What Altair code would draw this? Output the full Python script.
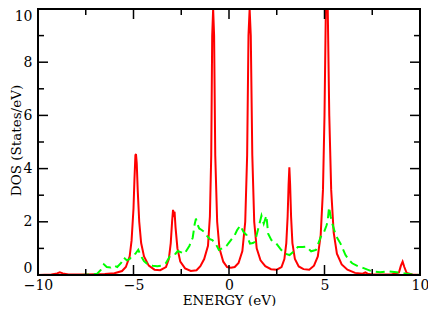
import altair as alt
import pandas as pd

# Red (solid) DOS curve: energy (eV), DOS (states/eV)
red_e = [-10.0, -9.3, -9.0, -8.86, -8.7, -8.4, -7.5, -6.5, -6.0, -5.6, -5.4, -5.2, -5.1, -5.0, -4.95,
         -4.9, -4.87, -4.83, -4.78, -4.7, -4.6, -4.45, -4.2, -3.9, -3.6, -3.3, -3.15, -3.05, -2.98,
         -2.93, -2.89, -2.85, -2.8, -2.7, -2.55, -2.3, -2.0, -1.7, -1.5, -1.3, -1.1, -1.0, -0.93,
         -0.88, -0.83, -0.78, -0.72, -0.62, -0.5, -0.3, -0.1, 0.1, 0.3, 0.5, 0.7, 0.85, 0.95, 1.02,
         1.08, 1.14, 1.22, 1.32, 1.45, 1.65, 1.9, 2.2, 2.5, 2.75, 2.9, 3.0, 3.07, 3.12, 3.16, 3.2,
         3.25, 3.32, 3.45, 3.65, 3.9, 4.2, 4.45, 4.65, 4.8, 4.92, 5.0, 5.07, 5.12, 5.17, 5.25, 5.35,
         5.48, 5.65, 5.9, 6.2, 6.6, 7.0, 7.14, 7.25, 7.5, 8.5, 8.9, 9.0, 9.09, 9.18, 9.3, 9.6, 10.0]
red_dos = [0.0, 0.02, 0.06, 0.1, 0.06, 0.02, 0.02, 0.04, 0.07, 0.15, 0.3, 0.7, 1.3, 2.5, 3.6,
           4.5, 4.55, 4.2, 3.2, 2.0, 1.2, 0.7, 0.35, 0.2, 0.18, 0.3, 0.6, 1.2, 2.0,
           2.45, 2.3, 2.38, 1.8, 1.0, 0.5, 0.25, 0.15, 0.18, 0.33, 0.6, 1.1, 2.2, 4.5,
           9.0, 14.0, 9.0, 4.5, 2.0, 1.0, 0.5, 0.3, 0.27, 0.3, 0.45, 0.9, 2.0, 4.5, 9.0,
           14.0, 9.0, 4.5, 2.0, 1.0, 0.55, 0.33, 0.22, 0.2, 0.3, 0.6, 1.2, 2.2, 3.4, 4.05, 3.4,
           2.2, 1.2, 0.6, 0.32, 0.22, 0.2, 0.35, 0.7, 1.5, 3.2, 6.0, 10.0, 14.0, 10.0, 6.0, 3.2,
           1.6, 0.8, 0.4, 0.2, 0.08, 0.05, 0.1, 0.05, 0.02, 0.02, 0.1, 0.35, 0.5, 0.3, 0.08, 0.02, 0.0]

# Green (dashed) DOS curve
green_e = [-10.0, -8.0, -7.1, -6.9, -6.7, -6.55, -6.4, -6.2, -6.04, -5.85, -5.65, -5.5, -5.35, -5.2,
           -5.05, -4.9, -4.75, -4.6, -4.45, -4.25, -4.0, -3.75, -3.5, -3.3, -3.1, -2.95, -2.8, -2.68,
           -2.5, -2.33, -2.2, -2.07, -1.9, -1.8, -1.73, -1.65, -1.56, -1.45, -1.3, -1.13, -1.0, -0.87,
           -0.7, -0.53, -0.36, -0.2, -0.1, 0.16, 0.3, 0.42, 0.59, 0.76, 0.93, 1.1, 1.25, 1.36, 1.53,
           1.7, 1.82, 1.96, 2.05, 2.22, 2.48, 2.74, 2.91, 3.17, 3.42, 3.6, 3.85, 4.04, 4.3, 4.55, 4.81,
           4.98, 5.1, 5.16, 5.24, 5.32, 5.41, 5.59, 5.84, 6.1, 6.3, 6.45, 6.79, 7.05, 7.25, 7.48, 7.91,
           8.34, 8.77, 9.28, 9.6, 10.0]
green_dos = [0.0, 0.0, 0.02, 0.05, 0.2, 0.4, 0.3, 0.28, 0.36, 0.3, 0.45, 0.65, 0.55, 0.6,
             0.75, 0.8, 0.95, 0.7, 0.52, 0.4, 0.35, 0.33, 0.36, 0.45, 0.7, 0.78, 0.8, 0.9,
             0.85, 0.8, 0.95, 1.1, 1.4, 1.9, 2.12, 1.9, 1.75, 1.7, 1.62, 1.45, 1.35, 1.31,
             1.18, 0.94, 1.0, 1.05, 1.12, 1.37, 1.5, 1.68, 1.86, 1.62, 1.49, 1.18, 1.2, 1.25, 1.74,
             2.23, 1.93, 2.23, 1.55, 1.31, 1.18, 0.94, 0.81, 0.75, 0.9, 1.05, 1.05, 1.07, 0.89, 0.94, 1.44,
             1.62, 1.85, 2.0, 2.55, 2.2, 1.93, 1.49, 1.18, 0.75, 0.55, 0.44, 0.32, 0.26, 0.2, 0.14, 0.1,
             0.14, 0.1, 0.05, 0.02, 0.0]

x_limits = [-10, 10]
y_limits = [0, 10]
x_labels = [-10, -5, 0, 5, 10]
y_labels = [0, 2, 4, 6, 8, 10]
x_major = [-5, 0, 5]
x_minor = [-7.5, -2.5, 2.5, 7.5]
y_major = [2, 4, 6, 8]
y_minor = [1, 3, 5, 7, 9]

W, H = 382, 266
FONT = "DejaVu Serif"
xs = alt.Scale(domain=x_limits, nice=False, zero=False, clamp=True)
ys = alt.Scale(domain=y_limits, nice=False, zero=False, clamp=True)

xax = alt.Axis(
    values=x_labels, title="ENERGY (eV)", ticks=False, domain=False, grid=False, labelFlush=False,
    format="d", labelPadding=3, labelFontSize=14, labelColor="black",
    titleFontSize=13.5, titleFontWeight="normal", titleColor="black",
    titleBaseline="alphabetic", titleY=29)
yax = alt.Axis(
    values=y_labels, title="DOS (States/eV)", ticks=False, domain=False, grid=False, labelFlush=True,
    format="d", labelPadding=6, labelFontSize=14, labelColor="black",
    titleFontSize=13.5, titleFontWeight="normal", titleColor="black",
    titleAngle=270, titleBaseline="alphabetic", titleAlign="center", titleX=-18, titleY=131)

red_df = pd.DataFrame({"E": red_e, "DOS": red_dos})
green_df = pd.DataFrame({"E": green_e, "DOS": green_dos})

red = alt.Chart(red_df).mark_line(color="#ff0000", strokeWidth=2).encode(
    x=alt.X("E:Q", scale=xs, axis=xax),
    y=alt.Y("DOS:Q", scale=ys, axis=yax),
    order="E:Q",
)

green = alt.Chart(green_df).mark_line(color="#00ff00", strokeWidth=2, strokeDash=[9, 5]).encode(
    x=alt.X("E:Q", scale=xs, axis=xax),
    y=alt.Y("DOS:Q", scale=ys, axis=yax),
    order="E:Q",
)


def xticks(vals, length, top):
    y0 = 0 if top else H
    y1 = length if top else H - length
    return alt.Chart(pd.DataFrame({"v": vals})).mark_rule(color="black", strokeWidth=1.5).encode(
        x=alt.X("v:Q", scale=xs, axis=xax), y=alt.value(y0), y2=alt.value(y1))


def yticks(vals, length, right):
    x0 = W if right else 0
    x1 = W - length if right else length
    return alt.Chart(pd.DataFrame({"v": vals})).mark_rule(color="black", strokeWidth=1.5).encode(
        y=alt.Y("v:Q", scale=ys, axis=yax), x=alt.value(x0), x2=alt.value(x1))


ticks = [
    xticks(x_major, 10, False), xticks(x_minor, 6, False),
    xticks(x_major, 10, True), xticks(x_minor, 6, True),
    yticks(y_major, 10, False), yticks(y_minor, 6, False),
    yticks(y_major, 10, True), yticks(y_minor, 6, True),
]

# plot frame: a closed path round the axis limits
frame_df = pd.DataFrame({
    "fx": [x_limits[0], x_limits[1], x_limits[1], x_limits[0], x_limits[0]],
    "fy": [y_limits[0], y_limits[0], y_limits[1], y_limits[1], y_limits[0]],
    "i": [0, 1, 2, 3, 4],
})
frame = alt.Chart(frame_df).mark_line(color="black", strokeWidth=2).encode(
    x=alt.X("fx:Q", scale=xs, axis=xax),
    y=alt.Y("fy:Q", scale=ys, axis=yax),
    order="i:Q",
)

chart = alt.layer(red, green, *ticks, frame).properties(
    width=W, height=H,
    autosize=alt.AutoSizeParams(type="none"),
    padding={"left": 30, "top": 1, "right": 8, "bottom": 31},
).configure_view(stroke="black", strokeWidth=2).configure_axis(labelFont=FONT, titleFont=FONT)

chart.save("out.html", embed_options={"renderer": "svg", "actions": False})
